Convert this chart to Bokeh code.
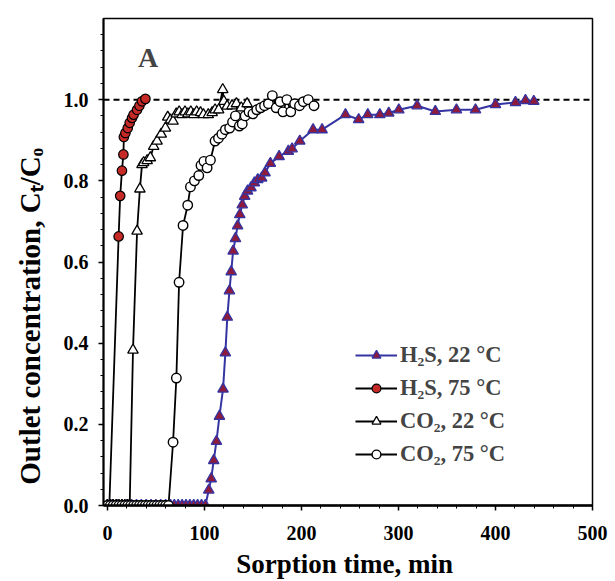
from bokeh.plotting import figure
from bokeh.models import (Range1d, SingleIntervalTicker, Span, Label, Legend,
                          LegendItem, PrintfTickFormatter)
from bokeh.embed import file_html
from bokeh.resources import INLINE

# ---------------- data ----------------
h2s22_t = [0, 5, 10, 15, 20, 25, 30, 35, 40, 45, 50, 55, 60, 65, 69, 73, 77, 81,
           85, 89, 93, 97, 101, 104.5, 107, 109.6, 112.4, 115.5, 119.2, 121.6,
           123.6, 125.8, 127.6, 129.6, 132, 134.2, 136.5, 139, 141.5, 144.5,
           148, 151.5, 155, 159, 162.5, 168, 177, 186.5, 190.4, 198.3, 212,
           221.3, 245.4, 259, 268.4, 280.8, 290, 300.4, 319.2, 338, 359.8,
           379.4, 400, 420.6, 430.9, 439.5]
h2s22_c = [0, 0, 0, 0, 0, 0, 0, 0, 0, 0, 0, 0, 0, 0, 0, 0, 0, 0,
           0, 0, 0, 0, 0, 0.038, 0.066, 0.111, 0.158, 0.22, 0.287, 0.376,
           0.464, 0.529, 0.576, 0.627, 0.658, 0.689, 0.717, 0.741, 0.762, 0.775,
           0.783, 0.795, 0.803, 0.807, 0.82, 0.843, 0.86, 0.873, 0.879, 0.898, 0.926,
           0.926, 0.963, 0.951, 0.963, 0.963, 0.967, 0.975, 0.985, 0.971, 0.975,
           0.975, 0.988, 0.993, 0.998, 0.996]

h2s75_t = [0, 2, 11.6, 13.2, 15, 16.5, 17, 18.6, 21, 23, 25.4, 27, 30.6, 33, 35.7, 39.2]
h2s75_c = [0, 0, 0.663, 0.763, 0.825, 0.865, 0.908, 0.918, 0.93, 0.943, 0.955,
           0.963, 0.975, 0.985, 0.996, 1.002]

co2_22_t = [0, 3, 6, 9, 12, 15, 18, 21, 23, 26.4, 30.6, 33.5, 35.7, 37.4, 41, 44.3,
            47.7, 51.2, 55.5, 59.8, 62.2, 65, 67.7, 71, 74, 77, 80, 83, 86, 89, 92,
            96, 99, 104, 108, 111, 114.7, 118.9, 120, 123.4, 128.5, 133, 138, 144]
co2_22_c = [0, 0, 0, 0, 0, 0, 0, 0, 0, 0.383, 0.676, 0.78, 0.84, 0.845, 0.85, 0.857,
            0.885, 0.898, 0.915, 0.93, 0.957, 0.95, 0.947, 0.965, 0.97, 0.963, 0.97,
            0.965, 0.97, 0.963, 0.97, 0.968, 0.963, 0.963, 0.968, 0.975, 0.975, 1.025,
            0.996, 0.984, 0.985, 0.99, 0.98, 0.99]

co2_75_t = [0, 3, 6, 9, 12, 15, 18, 21, 24, 27, 30, 33, 36, 39, 42, 45, 48, 51, 54,
            57, 60, 63, 67.7, 71.1, 73.9, 78, 82.8, 85.6, 89.7, 94.2, 96.5, 99.5,
            102.8, 106.2, 111, 114.5, 118, 121.6, 126, 129, 132, 136, 139, 142, 146,
            150, 154, 158, 162, 166, 170, 174, 178, 181, 185, 189, 193, 198, 202,
            207, 213]
co2_75_c = [0, 0, 0, 0, 0, 0, 0, 0, 0, 0, 0, 0, 0, 0, 0, 0, 0, 0, 0,
            0, 0, 0, 0.156, 0.314, 0.55, 0.69, 0.74, 0.785, 0.8, 0.813, 0.838, 0.848,
            0.832, 0.851, 0.898, 0.905, 0.915, 0.926, 0.93, 0.945, 0.96, 0.935, 0.94,
            0.96, 0.97, 0.965, 0.975, 0.98, 0.985, 0.99, 1.01, 0.98, 0.995, 0.97,
            1.0, 0.97, 0.99, 0.985, 0.995, 1.0, 0.985]

x_ticks_interval = 100
y_ticks_interval = 0.2
labels = ["H\u2082S, 22 \u00b0C", "H\u2082S, 75 \u00b0C",
          "CO\u2082, 22 \u00b0C", "CO\u2082, 75 \u00b0C"]
x_title = "Sorption time,  min"
# trailing no-break spaces push the visible title below the frame centre, as in the reference
y_title = "Outlet concentration, C\u209c/C\u2092" + "\u00a0" * 15

SERIF = "Liberation Serif"

p = figure(width=613, height=581, output_backend="svg", toolbar_location=None,
           x_range=Range1d(-4, 500), y_range=Range1d(0, 1.2),
           min_border_left=103, min_border_right=21, min_border_top=18,
           min_border_bottom=75)
p.background_fill_color = "white"
p.border_fill_color = "white"
p.outline_line_color = "black"
p.outline_line_width = 1.5
p.xgrid.visible = False
p.ygrid.visible = False

p.xaxis.ticker = SingleIntervalTicker(interval=x_ticks_interval, num_minor_ticks=5)
p.yaxis.ticker = SingleIntervalTicker(interval=y_ticks_interval, num_minor_ticks=5)
p.yaxis.formatter = PrintfTickFormatter(format="%.1f")

for ax in (p.xaxis[0], p.yaxis[0]):
    ax.axis_line_color = "black"
    ax.major_tick_in = 0
    ax.major_tick_out = 5
    ax.minor_tick_in = 0
    ax.minor_tick_out = 3
    ax.major_tick_line_color = "black"
    ax.minor_tick_line_color = "black"
    ax.major_tick_line_width = 1.5
    ax.major_label_text_font = SERIF
    ax.major_label_text_font_style = "bold"
    ax.major_label_text_font_size = "20px"
    ax.major_label_text_color = "black"
    ax.axis_label_text_font = SERIF
    ax.axis_label_text_font_style = "bold"
    ax.axis_label_text_color = "black"

p.xaxis.axis_line_width = 2.5
p.yaxis.axis_line_width = 2
p.xaxis.major_label_standoff = 15
p.yaxis.major_label_standoff = 10
p.xaxis.axis_label = x_title
p.xaxis.axis_label_text_font_size = "27px"
p.xaxis.axis_label_standoff = 6
p.yaxis.axis_label = y_title
p.yaxis.axis_label_text_font_size = "29px"
p.yaxis.axis_label_standoff = 15

span = Span(location=1.0, dimension="width", line_color="black", line_width=2,
            line_dash="6 4", level="underlay")
p.add_layout(span)

# H2S 22 C
l1 = p.line(h2s22_t, h2s22_c, line_color="#3434a2", line_width=2)
s1 = p.scatter(h2s22_t, h2s22_c, marker="triangle", size=10.5,
               fill_color="#8e1a3c", line_color="#3434a2", line_width=1.3)
# H2S 75 C
l2 = p.line(h2s75_t, h2s75_c, line_color="black", line_width=1.8)
s2 = p.scatter(h2s75_t, h2s75_c, marker="circle", size=9.5,
               fill_color="#c62a26", line_color="black", line_width=1.2)
# CO2 22 C
l3 = p.line(co2_22_t, co2_22_c, line_color="black", line_width=1.8)
s3 = p.scatter(co2_22_t, co2_22_c, marker="triangle", size=10.5,
               fill_color="white", line_color="black", line_width=1.3)
# CO2 75 C
l4 = p.line(co2_75_t, co2_75_c, line_color="black", line_width=1.8)
s4 = p.scatter(co2_75_t, co2_75_c, marker="circle", size=9.5,
               fill_color="white", line_color="black", line_width=1.4)

legend = Legend(items=[LegendItem(label=labels[0], renderers=[l1, s1]),
                       LegendItem(label=labels[1], renderers=[l2, s2]),
                       LegendItem(label=labels[2], renderers=[l3, s3]),
                       LegendItem(label=labels[3], renderers=[l4, s4])],
                location=(252, 38), glyph_width=42, glyph_height=22,
                label_height=22, spacing=7, padding=0, margin=0,
                border_line_alpha=0, background_fill_alpha=0,
                label_text_font=SERIF, label_text_font_style="bold",
                label_text_font_size="22.5px", label_standoff=3)
p.add_layout(legend)

p.add_layout(Label(x=42, y=1.105, text="A", text_font=SERIF,
                   text_font_style="bold", text_font_size="28px",
                   text_align="center", text_baseline="middle"))

open("out.html", "w").write(file_html(p, INLINE))
